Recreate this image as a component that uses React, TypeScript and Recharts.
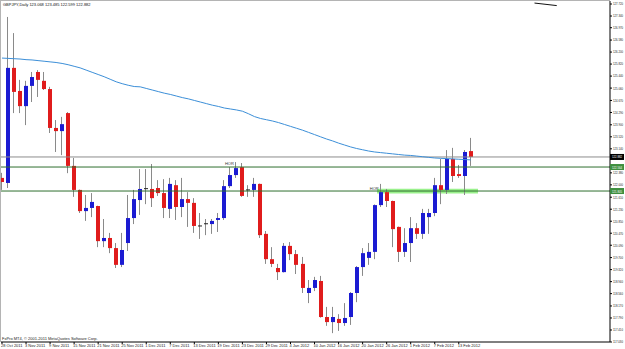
import { ComposedChart, Bar, Line, XAxis, YAxis, ReferenceLine, ReferenceArea, ReferenceDot } from 'recharts'

// GBPJPY daily bars, 28 Oct 2011 - 15 Feb 2012
const dates = [
  '28 Oct 2011', '31 Oct 2011',
  '1 Nov 2011', '2 Nov 2011', '3 Nov 2011', '4 Nov 2011', '7 Nov 2011', '8 Nov 2011', '9 Nov 2011', '10 Nov 2011', '11 Nov 2011',
  '14 Nov 2011', '15 Nov 2011', '16 Nov 2011', '17 Nov 2011', '18 Nov 2011', '21 Nov 2011', '22 Nov 2011', '23 Nov 2011', '24 Nov 2011',
  '25 Nov 2011', '28 Nov 2011', '29 Nov 2011', '30 Nov 2011',
  '1 Dec 2011', '2 Dec 2011', '5 Dec 2011', '6 Dec 2011', '7 Dec 2011', '8 Dec 2011', '9 Dec 2011', '12 Dec 2011', '13 Dec 2011',
  '14 Dec 2011', '15 Dec 2011', '16 Dec 2011', '19 Dec 2011', '20 Dec 2011', '21 Dec 2011', '22 Dec 2011', '23 Dec 2011',
  '26 Dec 2011', '27 Dec 2011', '28 Dec 2011', '29 Dec 2011', '30 Dec 2011',
  '2 Jan 2012', '3 Jan 2012', '4 Jan 2012', '5 Jan 2012', '6 Jan 2012', '9 Jan 2012', '10 Jan 2012', '11 Jan 2012', '12 Jan 2012',
  '13 Jan 2012', '16 Jan 2012', '17 Jan 2012', '18 Jan 2012', '19 Jan 2012', '20 Jan 2012', '23 Jan 2012', '24 Jan 2012', '25 Jan 2012',
  '26 Jan 2012', '27 Jan 2012', '30 Jan 2012', '31 Jan 2012',
  '1 Feb 2012', '2 Feb 2012', '3 Feb 2012', '6 Feb 2012', '7 Feb 2012', '8 Feb 2012', '9 Feb 2012', '10 Feb 2012',
  '13 Feb 2012', '14 Feb 2012', '15 Feb 2012',
]

const opens = [
  122.22, 122.06, 125.70, 124.97, 124.49, 125.13, 125.57, 125.29, 125.03, 123.80,
  123.70, 124.27, 122.60, 121.84, 121.17, 121.27, 121.33, 120.22, 120.32, 120.00,
  119.47, 120.16, 120.95, 121.52, 121.87, 121.87, 121.90, 121.74, 121.24, 121.99,
  121.30, 121.55, 121.43, 120.70, 120.76, 120.76, 120.89, 120.95, 121.96, 122.31,
  122.56, 121.84, 121.84, 122.03, 120.45, 119.65, 119.37, 119.24, 120.07, 119.81,
  119.50, 118.58, 118.74, 118.96, 117.82, 117.66, 117.76, 117.63, 117.82, 118.58,
  119.40, 119.69, 119.88, 121.36, 121.77, 121.49, 120.67, 119.88, 120.16, 120.63,
  120.45, 120.98, 121.11, 121.99, 121.84, 122.82, 122.34, 122.28, 123.068,
]
const highs = [
  122.38, 127.31, 126.80, 125.32, 125.29, 125.57, 125.63, 125.57, 125.10, 124.05,
  124.15, 124.30, 122.85, 121.85, 121.68, 121.74, 121.34, 120.92, 120.48, 120.16,
  120.48, 121.68, 121.84, 122.50, 122.50, 122.66, 122.15, 122.18, 122.22, 122.15,
  122.22, 121.77, 121.58, 121.11, 120.92, 120.92, 121.11, 122.15, 122.56, 122.72,
  122.69, 121.99, 122.22, 122.04, 120.54, 120.03, 119.50, 120.16, 120.19, 119.94,
  119.72, 118.99, 119.09, 119.12, 118.14, 118.14, 117.91, 118.26, 118.61, 119.43,
  120.00, 120.16, 121.38, 122.03, 121.87, 121.50, 120.68, 120.63, 120.98, 120.79,
  121.24, 121.24, 122.22, 122.82, 123.10, 123.17, 122.63, 123.10, 123.485,
]
const lows = [
  121.84, 121.90, 124.27, 124.27, 123.89, 124.62, 124.78, 125.00, 123.64, 123.04,
  122.94, 122.37, 121.62, 121.11, 120.86, 120.98, 120.03, 120.03, 119.84, 119.37,
  119.40, 119.91, 120.76, 121.05, 121.39, 121.30, 121.65, 120.95, 120.95, 120.89,
  120.98, 120.67, 120.48, 120.29, 120.41, 120.45, 120.51, 120.89, 121.90, 122.22,
  121.62, 121.62, 121.62, 120.32, 119.50, 119.40, 118.99, 119.23, 119.62, 119.18,
  118.58, 118.26, 118.64, 117.80, 117.54, 117.31, 117.38, 117.54, 117.57, 118.29,
  119.12, 119.47, 119.65, 121.30, 121.30, 120.03, 119.56, 119.72, 119.56, 120.29,
  120.29, 120.45, 121.01, 121.39, 121.71, 122.09, 122.22, 121.68, 122.599,
]
const closes = [
  122.09, 125.70, 124.94, 124.49, 125.13, 125.41, 125.32, 125.03, 123.80, 123.70,
  123.92, 122.60, 121.84, 121.17, 121.27, 121.46, 120.22, 120.32, 120.00, 119.47,
  119.94, 120.95, 121.55, 121.87, 121.88, 121.58, 121.74, 121.27, 122.03, 121.30,
  121.55, 121.43, 120.70, 120.69, 120.77, 120.86, 120.95, 121.96, 122.31, 122.53,
  121.65, 121.83, 122.03, 120.41, 119.65, 119.50, 119.24, 120.07, 119.81, 119.47,
  118.74, 118.74, 118.99, 117.82, 117.66, 117.82, 117.63, 117.79, 118.58, 119.40,
  119.84, 119.88, 121.36, 121.77, 121.49, 120.60, 119.88, 120.16, 120.63, 120.45,
  121.11, 121.11, 121.99, 121.84, 122.82, 122.28, 122.28, 123.04, 122.882,
]
// moving average
const movingAvg = [
  126.01, 126.00, 125.99, 125.98, 125.96, 125.95, 125.93, 125.91, 125.89, 125.87,
  125.84, 125.80, 125.75, 125.70, 125.63, 125.56, 125.49, 125.42, 125.34, 125.26,
  125.20, 125.15, 125.11, 125.10, 125.05, 125.00, 124.95, 124.90, 124.86, 124.81,
  124.76, 124.72, 124.67, 124.62, 124.57, 124.52, 124.48, 124.43, 124.40, 124.37,
  124.33, 124.25, 124.16, 124.10, 124.06, 124.02, 123.97, 123.91, 123.85, 123.79,
  123.73, 123.66, 123.59, 123.52, 123.45, 123.39, 123.32, 123.26, 123.20, 123.15,
  123.11, 123.07, 123.04, 123.02, 123.00, 122.98, 122.96, 122.94, 122.93, 122.91,
  122.89, 122.87, 122.85, 122.84, 122.83, 122.82, 122.81, 122.80, 122.79,
]

const priceTicks = [
  127.72, 127.34, 126.97, 126.58, 126.2, 125.82, 125.44, 125.06, 124.67, 124.29,
  123.9, 123.52, 123.14, 122.38, 122.0, 121.61, 121.23, 120.85, 120.47, 120.09,
  119.7, 119.32, 118.94, 118.56, 118.17, 117.79, 117.41, 117.03,
]
const lastPrice = 122.882
const hLines = [122.564, 121.805]
const title = 'GBPJPY,Daily  123.068 123.485 122.599 122.882'

const data = dates.map((d, i) => ({
  i, date: d, open: opens[i], high: highs[i], low: lows[i], close: closes[i],
  range: [lows[i], highs[i]], ma: movingAvg[i],
}))
const dateTicks = dates.map((_, i) => i).filter(i => i % 4 === 0)

const FONT = 'Liberation Sans, Arial, sans-serif'

const Candle = (props: any) => {
  const { x, y, width, height, payload } = props
  if (!payload) return null
  const { open, high, low, close } = payload
  const top = Math.min(y, y + height)
  const h = Math.abs(height)
  const k = high > low ? h / (high - low) : 0
  const py = (v: number) => top + (high - v) * k
  const left = Math.round(x + width / 2 - 2)
  const wx = left + 1.5
  const bTop = py(Math.max(open, close))
  const bBot = py(Math.min(open, close))
  const up = close >= open
  const doji = bBot - bTop < 1
  return (
    <g>
      <line x1={wx} x2={wx} y1={top} y2={top + h} stroke="#8a8a8a" strokeWidth={1} />
      {doji ? (
        <rect x={left} y={bTop - 0.5} width={4} height={1} fill="#222" />
      ) : (
        <rect x={left} y={bTop} width={4} height={bBot - bTop} fill={up ? '#1b1bd2' : '#e01c1c'} />
      )}
    </g>
  )
}

const XTick = (props: any) => {
  const { x, y, payload } = props
  return (
    <text x={x - 1} y={y + 2.8} fontSize={4} fill="#222" fontFamily={FONT} textAnchor="start">
      {dates[payload.value]}
    </text>
  )
}

// price labels are squeezed into the narrow right-hand scale
const YTick = (props: any) => {
  const { x, y, payload } = props
  const v = payload.value
  if (v === lastPrice || hLines.includes(v)) {
    const fill = v === lastPrice ? '#000' : '#3f8f3f'
    return (
      <g>
        <rect x={610} y={y - 3} width={14} height={6} fill={fill} />
        <text x={612} y={y + 1.5} fontSize={3.2} fill="#fff" fontFamily={FONT} textLength={10} lengthAdjust="spacingAndGlyphs">
          {v.toFixed(3)}
        </text>
      </g>
    )
  }
  return (
    <text x={x + 1} y={y + 1.4} fontSize={3.2} fill="#222" fontFamily={FONT} textLength={10} lengthAdjust="spacingAndGlyphs">
      {v.toFixed(3)}
    </text>
  )
}

const HorLabel = (props: any) => (
  <text x={props.cx} y={props.cy} fontSize={4} fill="#333" fontFamily={FONT}>HOR</text>
)

export default function App() {
  return (
    <div style={{ position: 'absolute', left: 0, top: 0, width: 625, height: 349, background: '#fff' }}>
      <ComposedChart width={625} height={349} data={data} margin={{ top: 1, right: 0, bottom: 0, left: 1 }}>
        <XAxis
          type="number" dataKey="i" domain={[-0.166, 101.16]} allowDataOverflow
          ticks={dateTicks} interval={0} height={7} tickSize={2} tickMargin={0}
          axisLine={{ stroke: '#000' }} tickLine={{ stroke: '#000' }} tick={<XTick />}
        />
        <YAxis
          orientation="right" domain={[117.03, 127.815]} allowDataOverflow
          ticks={[...priceTicks, lastPrice, ...hLines]} interval={0} width={15} tickSize={2} tickMargin={0}
          axisLine={{ stroke: '#000' }} tickLine={{ stroke: '#000' }} tick={<YTick />}
        />
        <ReferenceArea x1={62.4} x2={79.2} y1={121.73} y2={121.88} fill="#8fef7f" fillOpacity={0.9} stroke="none" />
        <ReferenceLine y={lastPrice} stroke="#8c8c8c" strokeWidth={1} />
        {hLines.map(v => (
          <ReferenceLine key={v} y={v} stroke="#2f6f2f" strokeWidth={1} />
        ))}
        <ReferenceLine segment={[{ x: 88.6, y: 127.75 }, { x: 92.3, y: 127.67 }]} stroke="#111" strokeWidth={1} />
        <Line dataKey="ma" stroke="#3c8fd8" strokeWidth={1} dot={false} isAnimationActive={false} />
        <Bar dataKey="range" barSize={4} shape={<Candle />} isAnimationActive={false} />
        <ReferenceDot x={37.1} y={122.63} r={0} shape={<HorLabel />} />
        <ReferenceDot x={61.2} y={121.84} r={0} shape={<HorLabel />} />
      </ComposedChart>
      <svg width={625} height={349} style={{ position: 'absolute', left: 0, top: 0, pointerEvents: 'none' }}>
        <line x1={0.5} x2={0.5} y1={0} y2={342} stroke="#b4b4b4" strokeWidth={1} />
        <line x1={0} x2={610} y1={0.5} y2={0.5} stroke="#b4b4b4" strokeWidth={1} />
        <text x={3} y={6.3} fontSize={4} fill="#111" fontFamily={FONT}>{title}</text>
        <text x={2} y={339.5} fontSize={4} fill="#222" fontFamily={FONT}>
          FxPro MT4, © 2001-2011 MetaQuotes Software Corp.
        </text>
      </svg>
    </div>
  )
}
